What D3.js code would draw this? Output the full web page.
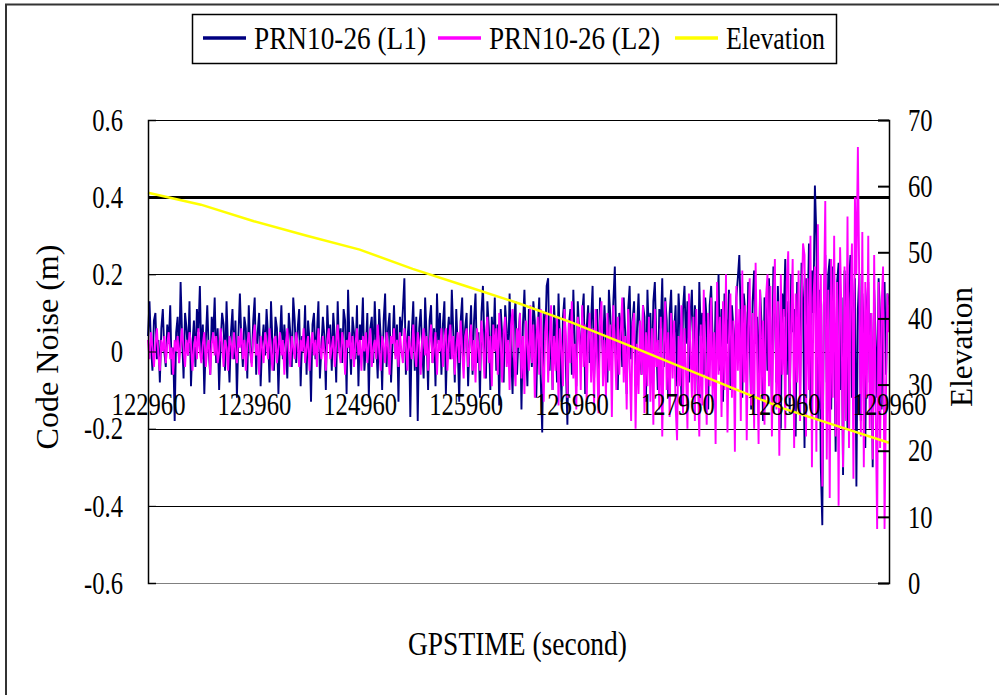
<!DOCTYPE html>
<html>
<head>
<meta charset="utf-8">
<script src="https://cdn.jsdelivr.net/npm/d3@7"></script>
<style>
  body { margin: 0; background: #fff; }
  svg text { font-family: "Liberation Serif", "Times New Roman", serif; fill: #000; }
</style>
</head>
<body>
<div id="vis"></div>
<script>
// sampling of the code noise series (every 14 s)
var tStart = 122960, tEnd = 129960, tStep = 14;
var times = d3.range(tStart, tEnd + 1, tStep);

// code noise L1 (m)
var noiseL1 = [
  0.04, 0.13, 0.02, -0.05, 0.08, 0.10, -0.02, 0.03, -0.08, 0.06, 0.11, 0.00, -0.04, 0.07, 0.02, 0.12, -0.06, 0.01, -0.18, 0.05,
  0.09, -0.03, 0.18, 0.04, -0.07, 0.10, 0.06, -0.01, 0.13, -0.09, 0.02, 0.08, -0.04, 0.11, 0.05, 0.17, -0.02, 0.07, -0.11, 0.03,
  0.12, 0.00, -0.06, 0.09, 0.04, 0.14, -0.03, 0.06, -0.10, 0.02, 0.10, 0.07, -0.05, 0.13, 0.01, -0.08, 0.05, 0.11, -0.02, 0.08,
  -0.12, 0.04, 0.15, 0.03, -0.04, 0.09, 0.06, -0.07, 0.12, 0.00, -0.03, 0.08, 0.14, -0.06, 0.05, 0.10, -0.09, 0.02, 0.07, -0.01,
  0.11, 0.04, -0.08, 0.13, 0.02, -0.05, 0.09, 0.06, -0.11, 0.03, 0.12, -0.02, 0.07, 0.01, -0.07, 0.10, 0.05, -0.04, 0.14, 0.08,
  -0.03, 0.06, 0.11, -0.09, 0.04, 0.00, 0.12, -0.06, 0.08, 0.03, -0.13, 0.07, 0.10, -0.02, 0.05, 0.13, -0.07, 0.01, 0.09, 0.04,
  -0.10, 0.12, 0.02, 0.07, -0.05, 0.10, 0.04, -0.08, 0.13, 0.00, 0.06, -0.03, 0.11, 0.08, -0.11, 0.16, 0.03, -0.06, 0.09, 0.05,
  -0.02, 0.12, -0.09, 0.07, 0.03, 0.14, -0.05, 0.01, 0.10, -0.12, 0.06, 0.09, -0.03, 0.13, 0.02, -0.07, 0.11, 0.04, -0.10, 0.08,
  0.15, -0.04, 0.06, 0.10, -0.08, 0.02, 0.12, -0.01, 0.07, -0.13, 0.09, 0.04, 0.11, 0.19, -0.06, 0.03, 0.08, -0.17, 0.05, 0.13,
  -0.05, 0.09, -0.18, 0.06, 0.11, 0.01, -0.07, 0.14, 0.04, -0.10, 0.08, 0.12, -0.03, 0.06, -0.09, 0.15, 0.02, 0.10, -0.06, 0.07,
  0.13, -0.11, 0.04, 0.09, -0.02, 0.16, 0.05, -0.08, 0.11, 0.01, -0.13, 0.08, 0.14, -0.04, 0.06, 0.10, -0.09, 0.03, 0.12, -0.06,
  0.08, 0.15, -0.03, 0.05, -0.12, 0.10, 0.17, 0.02, -0.07, 0.13, 0.06, -0.10, 0.09, 0.01, 0.14, -0.05, 0.07, -0.14, 0.11, 0.04,
  -0.08, 0.12, 0.06, -0.03, 0.15, 0.00, -0.11, 0.09, 0.13, -0.06, 0.04, 0.10, -0.15, 0.07, 0.16, 0.02, -0.09, 0.11, 0.05, -0.04,
  0.13, 0.08, -0.12, 0.06, 0.14, -0.07, -0.21, 0.10, 0.03, 0.17, 0.19, -0.05, 0.08, -0.10, 0.12, 0.04, -0.08, 0.15, 0.01, -0.13,
  0.09, 0.14, -0.04, -0.19, 0.07, 0.11, -0.06, 0.16, 0.02, -0.09, 0.13, 0.05, -0.02, 0.10, 0.15, -0.11, 0.06, 0.12, -0.03, 0.08,
  0.17, -0.07, 0.04, 0.11, -0.12, 0.14, 0.06, -0.01, 0.12, 0.03, -0.08, 0.16, 0.09, -0.05, 0.13, 0.22, 0.02, -0.10, 0.10, 0.07,
  -0.04, 0.14, 0.05, -0.11, 0.11, 0.17, -0.02, 0.08, 0.13, -0.09, 0.06, 0.15, 0.01, -0.06, 0.12, 0.09, -0.13, 0.16, 0.04, 0.10,
  -0.07, 0.13, 0.18, 0.03, -0.10, 0.11, 0.06, 0.19, -0.04, 0.14, 0.08, -0.12, 0.10, 0.16, -0.02, 0.05, 0.12, -0.09, 0.15, 0.07,
  -0.14, 0.11, 0.17, 0.02, 0.13, -0.08, 0.09, 0.16, -0.03, 0.12, 0.06, -0.11, 0.18, 0.04, 0.10, -0.06, 0.14, 0.08, -0.15, 0.12,
  0.17, 0.03, -0.09, 0.13, 0.07, 0.20, -0.05, 0.11, -0.13, 0.15, 0.09, 0.02, 0.16, -0.10, 0.12, 0.06, -0.04, 0.14, 0.19, 0.25,
  0.08, -0.12, 0.15, 0.10, -0.06, 0.18, 0.04, -0.15, 0.13, 0.21, 0.02, 0.09, -0.10, 0.16, 0.07, -0.18, 0.14, 0.11, -0.05, 0.19,
  0.06, -0.13, 0.22, 0.12, -0.08, 0.17, 0.03, -0.20, 0.15, 0.09, 0.24, -0.06, 0.13, -0.16, 0.20, 0.05, 0.11, -0.22, 0.18, 0.08,
  -0.10, 0.23, 0.14, -0.25, 0.19, 0.07, 0.28, -0.14, 0.21, 0.10, 0.43, 0.30, -0.18, 0.16, -0.30, -0.45, 0.12, 0.25, -0.08, 0.20,
  0.24, -0.15, 0.22, 0.06, -0.26, 0.18, 0.23, -0.10, 0.14, -0.32, 0.21, 0.09, -0.20, 0.17, 0.25, -0.12, 0.08, 0.19, -0.35, 0.11,
  0.20, -0.18, 0.15, 0.05, -0.25, 0.12, 0.18, -0.08, 0.10, -0.30, 0.16, 0.03, -0.12, 0.19, 0.09, -0.15, 0.14, 0.18, -0.06, 0.15,
  0.12
];

// code noise L2 (m)
var noiseL2 = [
  0.03, -0.02, 0.05, 0.01, -0.04, 0.02, 0.06, -0.01, -0.05, 0.03, 0.00, 0.04, -0.03, 0.02, 0.05, -0.02, 0.01, -0.06, 0.03, 0.00,
  0.04, -0.03, 0.02, 0.06, 0.01, -0.04, 0.03, -0.01, 0.05, 0.02, -0.05, 0.01, 0.04, -0.02, 0.06, 0.00, -0.03, 0.02, 0.05, -0.04,
  0.01, 0.03, -0.06, 0.02, 0.05, -0.01, 0.04, -0.03, 0.00, 0.06, 0.02, -0.04, 0.03, 0.01, -0.05, 0.04, 0.02, -0.02, 0.05, 0.00,
  -0.03, 0.04, 0.01, 0.06, -0.02, 0.03, -0.05, 0.02, 0.05, 0.00, -0.04, 0.03, 0.07, -0.01, 0.02, -0.06, 0.04, 0.01, -0.03, 0.05,
  0.02, -0.02, 0.06, 0.00, -0.05, 0.03, 0.04, -0.03, 0.01, 0.05, -0.01, 0.03, -0.06, 0.02, 0.06, 0.00, -0.04, 0.04, 0.01, -0.02,
  0.05, 0.02, -0.04, 0.03, 0.00, 0.06, -0.03, 0.01, 0.04, -0.05, 0.02, 0.05, -0.01, 0.03, -0.04, 0.06, 0.01, -0.02, 0.04, 0.00,
  -0.05, 0.03, 0.06, -0.02, 0.01, 0.04, -0.04, 0.02, 0.07, 0.00, -0.03, 0.05, 0.02, -0.06, 0.03, 0.01, 0.05, -0.02, 0.04, -0.04,
  0.02, 0.06, -0.01, 0.03, -0.05, 0.04, 0.00, 0.05, -0.03, 0.02, 0.06, -0.04, 0.01, 0.03, -0.02, 0.07, 0.00, -0.05, 0.04, 0.02,
  -0.03, 0.05, 0.01, -0.06, 0.04, 0.02, 0.06, -0.02, 0.03, -0.04, 0.05, 0.00, -0.03, 0.06, 0.02, -0.05, 0.04, 0.01, -0.02, 0.07,
  0.00, -0.04, 0.05, 0.02, -0.06, 0.03, 0.06, -0.01, 0.04, -0.05, 0.02, 0.07, -0.03, 0.01, 0.05, -0.06, 0.03, 0.00, 0.06, -0.04,
  0.03, 0.06, -0.05, 0.02, 0.07, -0.02, 0.04, -0.06, 0.01, 0.05, -0.03, 0.08, 0.00, -0.07, 0.04, 0.06, -0.04, 0.02, 0.07, -0.05,
  0.03, -0.08, 0.06, 0.01, -0.05, 0.08, 0.02, -0.07, 0.05, 0.09, -0.03, 0.04, -0.09, 0.07, 0.00, 0.06, -0.06, 0.10, 0.02, -0.08,
  0.05, 0.09, -0.04, 0.03, -0.10, 0.07, 0.11, -0.02, -0.09, 0.06, 0.01, 0.10, -0.07, 0.04, -0.11, 0.08, 0.02, -0.05, 0.12, -0.03,
  0.07, -0.12, 0.03, 0.09, -0.06, 0.11, -0.02, -0.13, 0.05, 0.10, -0.08, 0.02, 0.12, -0.10, 0.04, -0.05, 0.09, -0.14, 0.06, 0.01,
  -0.09, 0.11, 0.04, -0.12, 0.08, -0.03, 0.13, -0.07, 0.02, -0.15, 0.09, 0.05, -0.10, 0.12, -0.04, 0.07, -0.13, 0.03, 0.10, -0.08,
  0.06, -0.14, 0.11, -0.02, -0.16, 0.08, 0.13, -0.09, 0.03, -0.12, 0.10, -0.05, 0.07, -0.17, 0.12, 0.01, -0.10, 0.09, -0.06, 0.05,
  0.14, -0.08, 0.04, -0.15, 0.11, -0.03, -0.18, 0.07, 0.10, -0.20, 0.02, -0.11, 0.08, -0.06, 0.12, -0.16, 0.05, -0.09, 0.09, -0.13,
  0.06, -0.19, 0.11, -0.04, 0.03, -0.15, 0.09, -0.22, 0.01, 0.13, -0.10, 0.05, -0.17, 0.10, -0.07, 0.08, -0.14, -0.23, 0.04, -0.09,
  0.12, -0.16, 0.06, -0.05, -0.20, 0.15, 0.02, -0.12, 0.09, -0.18, 0.11, -0.07, -0.22, 0.07, -0.14, 0.16, -0.03, -0.19, 0.10, -0.09,
  0.14, -0.13, 0.05, -0.24, 0.18, -0.06, 0.09, -0.17, 0.13, -0.10, 0.20, -0.21, 0.03, 0.15, -0.12, 0.08, -0.26, 0.17, -0.05, 0.11,
  -0.18, 0.21, -0.08, 0.12, -0.23, 0.06, 0.19, -0.14, 0.10, -0.20, 0.23, -0.02, -0.24, 0.16, -0.11, 0.08, -0.19, 0.14, 0.20, -0.09,
  0.17, -0.22, 0.09, 0.24, -0.15, 0.13, -0.27, 0.20, -0.06, 0.11, -0.20, 0.18, 0.26, -0.12, 0.07, 0.24, -0.25, 0.15, -0.08, 0.21,
  -0.18, 0.12, 0.28, 0.25, -0.22, 0.19, -0.10, 0.30, -0.30, 0.14, 0.22, -0.26, 0.33, -0.15, 0.20, -0.35, 0.10, 0.39, -0.28, 0.16,
  -0.38, 0.24, -0.12, 0.30, -0.22, 0.18, -0.40, 0.27, 0.08, -0.30, 0.22, -0.18, 0.35, -0.25, 0.13, 0.28, -0.33, 0.40, 0.20, 0.53,
  0.15, -0.22, 0.31, -0.30, 0.18, -0.12, 0.30, -0.20, 0.10, -0.28, 0.25, -0.15, -0.46, 0.18, -0.25, 0.12, 0.22, -0.46, -0.10, 0.15,
  0.05
];

// satellite elevation (deg)
var elevTimes = [122960, 123460, 123960, 124460, 124960, 125460, 125960, 126460,
                 126960, 127460, 127960, 128460, 128960, 129460, 129960];
var elevation = [59.0, 57.2, 54.7, 52.5, 50.4, 47.5, 44.9, 42.3,
                 39.4, 36.2, 32.9, 29.6, 26.4, 23.8, 21.2];

var leftTicks = [-0.6, -0.4, -0.2, 0, 0.2, 0.4, 0.6];
var rightTicks = [0, 10, 20, 30, 40, 50, 60, 70];
var timeTicks = [122960, 123960, 124960, 125960, 126960, 127960, 128960, 129960];

var seriesNames = ["PRN10-26 (L1)", "PRN10-26 (L2)", "Elevation"];
var seriesColors = ["#000080", "#ff00ff", "#ffff00"];

var w = 999, h = 695;
var plotLeft = 148, plotRight = 889, plotTop = 120, plotBottom = 583;

var svg = d3.select("#vis").append("svg")
  .attr("width", w).attr("height", h);

// outer frame (top and left edges only)
svg.append("line").attr("x1", 5).attr("x2", w).attr("y1", 4.5).attr("y2", 4.5)
  .attr("stroke", "#333").attr("stroke-width", 2);
svg.append("line").attr("x1", 6).attr("x2", 6).attr("y1", 4).attr("y2", h)
  .attr("stroke", "#333").attr("stroke-width", 2);

var x = d3.scaleLinear().domain([tStart, tEnd]).range([plotLeft, plotRight]);
var y = d3.scaleLinear().domain([-0.6, 0.6]).range([plotBottom, plotTop]);
var y2 = d3.scaleLinear().domain([0, 70]).range([plotBottom, plotTop]);

// squeeze text horizontally like the original bitmap font
function squeeze(sel, sx) {
  sel.each(function () {
    var t = d3.select(this);
    var tx = +t.attr("x") || 0, ty = +t.attr("y") || 0;
    t.attr("x", 0).attr("y", 0)
     .attr("transform", "translate(" + tx + "," + ty + ") scale(" + sx + ",1)");
  });
}

// gridlines
svg.append("g").selectAll("line")
  .data(leftTicks.filter(d => d !== 0))
  .enter().append("line")
  .attr("x1", plotLeft).attr("x2", plotRight)
  .attr("y1", d => Math.round(y(d)) + 0.5).attr("y2", d => Math.round(y(d)) + 0.5)
  .attr("stroke", d => d === -0.6 ? "#808080" : "#000")
  .attr("stroke-width", d => d === 0.4 ? 3 : 1);

// x axis line at zero (under the data)
svg.append("line")
  .attr("x1", plotLeft).attr("x2", plotRight)
  .attr("y1", Math.round(y(0)) + 0.5).attr("y2", Math.round(y(0)) + 0.5)
  .attr("stroke", "#000");

// series
var lineNoise = d3.line().x((d, i) => x(times[i])).y(d => y(d));
var lineEl = d3.line().x((d, i) => x(elevTimes[i])).y(d => y2(d));

svg.append("path").datum(noiseL1)
  .attr("d", lineNoise).attr("fill", "none")
  .attr("stroke", seriesColors[0]).attr("stroke-width", 1.9);
svg.append("path").datum(noiseL2)
  .attr("d", lineNoise).attr("fill", "none")
  .attr("stroke", seriesColors[1]).attr("stroke-width", 1.9);
svg.append("path").datum(elevation)
  .attr("d", lineEl).attr("fill", "none")
  .attr("stroke", seriesColors[2]).attr("stroke-width", 2.5);

// left axis
var gl = svg.append("g").attr("transform", "translate(" + plotLeft + ",0)")
  .call(d3.axisLeft(y).tickValues(leftTicks).tickSize(-8).tickPadding(25)
    .tickFormat(d => d === 0 ? "0" : d.toFixed(1)));
gl.select(".domain").attr("stroke", "#000").attr("stroke-width", 1.5);
gl.selectAll(".tick line").attr("stroke", "#000");
gl.selectAll("text").attr("font-size", 32).attr("font-family", null).attr("fill", "#000");
squeeze(gl.selectAll("text"), 0.77);

// right axis
var gr = svg.append("g").attr("transform", "translate(" + plotRight + ",0)")
  .call(d3.axisRight(y2).tickValues(rightTicks).tickSize(-11).tickPadding(19));
gr.select(".domain").attr("stroke", "#000").attr("stroke-width", 1.5);
gr.selectAll(".tick line").attr("stroke", "#000").attr("stroke-width", 2);
gr.selectAll("text").attr("font-size", 32).attr("font-family", null).attr("fill", "#000");
squeeze(gr.selectAll("text"), 0.77);

// time labels (drawn over the data)
var gx = svg.append("g").attr("transform", "translate(0," + y(0) + ")")
  .call(d3.axisBottom(x).tickValues(timeTicks).tickSize(0).tickFormat(d3.format("d")));
gx.select(".domain").remove();
gx.selectAll("text").attr("font-size", 32).attr("font-family", null).attr("fill", "#000")
  .attr("y", 63).attr("dy", null);
squeeze(gx.selectAll("text"), 0.77);

// axis titles
svg.append("text")
  .attr("transform", "translate(58,347) rotate(-90)")
  .attr("text-anchor", "middle").attr("font-size", 32)
  .attr("textLength", 205).attr("lengthAdjust", "spacingAndGlyphs")
  .text("Code Noise (m)");
svg.append("text")
  .attr("transform", "translate(972,347) rotate(-90)")
  .attr("text-anchor", "middle").attr("font-size", 32)
  .attr("textLength", 120).attr("lengthAdjust", "spacingAndGlyphs")
  .text("Elevation");
svg.append("text")
  .attr("x", 408).attr("y", 655).attr("font-size", 33)
  .attr("textLength", 219).attr("lengthAdjust", "spacingAndGlyphs")
  .text("GPSTIME (second)");

// legend
var lg = svg.append("g");
lg.append("rect").attr("x", 192.5).attr("y", 14.5).attr("width", 644).attr("height", 49)
  .attr("fill", "#fff").attr("stroke", "#000").attr("stroke-width", 1.5);
var legX = [203, 438, 675];
var legW = [172, 171, 99];
seriesNames.forEach(function (name, i) {
  lg.append("line").attr("x1", legX[i]).attr("x2", legX[i] + 43)
    .attr("y1", 38).attr("y2", 38)
    .attr("stroke", seriesColors[i]).attr("stroke-width", 3.5);
  lg.append("text").attr("x", legX[i] + 51).attr("y", 49).attr("font-size", 31)
    .attr("textLength", legW[i]).attr("lengthAdjust", "spacingAndGlyphs")
    .text(name);
});
</script>
</body>
</html>
